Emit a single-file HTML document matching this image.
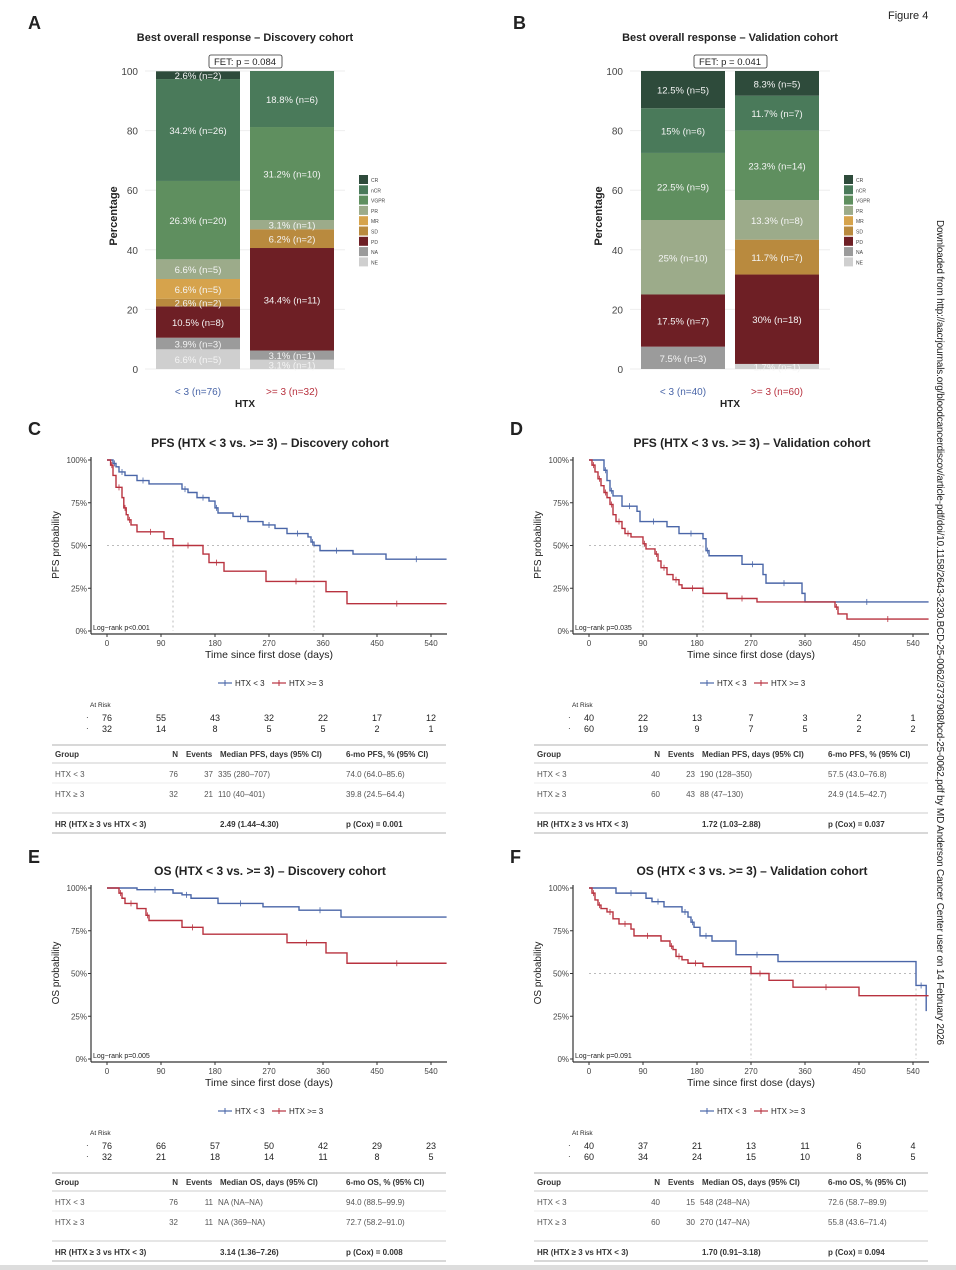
<!DOCTYPE html>
<html><head><meta charset="utf-8"><style>
body{margin:0;background:#fff;width:956px;height:1270px;overflow:hidden;font-family:"Liberation Sans",sans-serif}
svg{position:absolute;left:0;top:0}
</style></head><body>
<svg id="s" width="956" height="1270" xmlns="http://www.w3.org/2000/svg" font-family="Liberation Sans, sans-serif"></svg>
<script>
const S=document.getElementById('s');let h='';
function T(x,y,t,o={}){h+=`<text x="${x}" y="${y}" font-size="${o.s||8}" fill="${o.c||'#222'}" text-anchor="${o.a||'start'}" font-weight="${o.b?'bold':'normal'}" ${o.r?`transform="rotate(${o.r} ${x} ${y})"`:''}>${t}</text>`;}
function L(x1,y1,x2,y2,c,w,d){h+=`<line x1="${x1}" y1="${y1}" x2="${x2}" y2="${y2}" stroke="${c}" stroke-width="${w||1}" ${d?`stroke-dasharray="${d}"`:''}/>`;}
function R(x,y,w,hh,c){h+=`<rect x="${x}" y="${y}" width="${w}" height="${hh}" fill="${c}"/>`;}
const col={CR:'#2e4b3b',nCR:'#4a7a5a',VGPR:'#5f8f5f',PR:'#9cab8a',MR:'#d6a34c',SD:'#b98a3e',PD:'#6e1f25',NA:'#9b9b9b',NE:'#cfcfcf'};
const order=['CR','nCR','VGPR','PR','MR','SD','PD','NA','NE'];
T(888,19,'Figure 4',{s:11});
h+=`<text x="937" y="220" font-size="10" fill="#222" transform="rotate(90 937 220)" textLength="825">Downloaded from http://aacrjournals.org/bloodcancerdiscov/article-pdf/doi/10.1158/2643-3230.BCD-25-0062/3737908/bcd-25-0062.pdf by MD Anderson Cancer Center user on 14 February 2026</text>`;
function bars(ox,letter,title,fet,b1,b2,l1,l2){
 T(ox+28,29,letter,{s:18,b:1});
 T(ox+245,41,title,{s:11,b:1,a:'middle'});
 const y0=369,y1=71,k=(y0-y1)/100;
 for(let v=0;v<=100;v+=20){T(ox+138,y0-v*k+4,v,{s:10,c:'#444',a:'end'});L(ox+145,y0-v*k,ox+345,y0-v*k,'#eee');}
 T(ox+117,216,'Percentage',{s:11,b:1,a:'middle',r:-90});
 [[b1,ox+156],[b2,ox+250]].forEach(([b,x])=>{let y=y0;b.forEach(([c,p,lab])=>{const hh=p*k;R(x,y-hh,84,hh,col[c]);if(lab)T(x+42,y-hh/2+4,lab,{s:9.5,c:'#f4f4f4',a:'middle'});y-=hh;});});
 h+=`<rect x="${ox+209}" y="55" width="73" height="13" fill="#fff" stroke="#333" stroke-width="0.8" rx="2"/>`;
 T(ox+245,65,fet,{s:9.5,a:'middle'});
 order.forEach((c,i)=>{R(ox+359,175+i*10.3,9,9,col[c]);T(ox+371,182+i*10.3,c,{s:5,c:'#444'});});
 T(ox+198,395,l1,{s:10,c:'#4a66a8',a:'middle'});T(ox+292,395,l2,{s:10,c:'#b8323f',a:'middle'});
 T(ox+245,407,'HTX',{s:10,b:1,a:'middle'});
}
bars(0,'A','Best overall response – Discovery cohort','FET: p = 0.084',
[['NE',6.6,'6.6% (n=5)'],['NA',3.9,'3.9% (n=3)'],['PD',10.5,'10.5% (n=8)'],['SD',2.6,'2.6% (n=2)'],['MR',6.6,'6.6% (n=5)'],['PR',6.6,'6.6% (n=5)'],['VGPR',26.3,'26.3% (n=20)'],['nCR',34.2,'34.2% (n=26)'],['CR',2.6,'2.6% (n=2)']],
[['NE',3.1,'3.1% (n=1)'],['NA',3.1,'3.1% (n=1)'],['PD',34.4,'34.4% (n=11)'],['SD',6.3,'6.2% (n=2)'],['PR',3.1,'3.1% (n=1)'],['VGPR',31.2,'31.2% (n=10)'],['nCR',18.8,'18.8% (n=6)']],'&lt; 3 (n=76)','&gt;= 3 (n=32)');
bars(485,'B','Best overall response – Validation cohort','FET: p = 0.041',
[['NA',7.5,'7.5% (n=3)'],['PD',17.5,'17.5% (n=7)'],['PR',25,'25% (n=10)'],['VGPR',22.5,'22.5% (n=9)'],['nCR',15,'15% (n=6)'],['CR',12.5,'12.5% (n=5)']],
[['NE',1.7,'1.7% (n=1)'],['PD',30,'30% (n=18)'],['SD',11.7,'11.7% (n=7)'],['PR',13.3,'13.3% (n=8)'],['VGPR',23.3,'23.3% (n=14)'],['nCR',11.7,'11.7% (n=7)'],['CR',8.3,'8.3% (n=5)']],'&lt; 3 (n=40)','&gt;= 3 (n=60)');
function km(ox,oy,letter,title,ylab,lr,blue,red,med,risk,tab){
 T(ox+28,oy+435,letter,{s:18,b:1});
 T(ox+270,oy+447,title,{s:12,b:1,a:'middle'});
 const X=d=>ox+107+d*0.6,Y=p=>oy+631-p*1.71;
 L(ox+91,oy+457,ox+91,oy+634,'#333',1.2);L(ox+91,oy+634,ox+447,oy+634,'#333',1.2);
 [0,25,50,75,100].forEach(v=>{T(ox+87,Y(v)+3,v+'%',{s:8,c:'#444',a:'end'});L(ox+88,Y(v),ox+91,Y(v),'#333');});
 for(let d=0;d<=540;d+=90){T(X(d),oy+646,d,{s:8,c:'#444',a:'middle'});L(X(d),oy+634,X(d),oy+637,'#333');}
 T(ox+269,oy+658,'Time since first dose (days)',{s:10.5,a:'middle'});
 T(ox+59,oy+545,ylab,{s:10,a:'middle',r:-90});
 if(med.length){L(X(0),Y(50),X(Math.max(...med)),Y(50),'#bbb',1,'2,3');med.forEach(m=>L(X(m),Y(50),X(m),Y(0),'#bbb',1,'2,3'));}
 [[blue,'#4a66a8'],[red,'#b8323f']].forEach(([p,c])=>{let d=`M${X(p[0][0])},${Y(p[0][1])}`;for(let i=1;i<p.length;i++){d+=`H${X(p[i][0])}V${Y(p[i][1])}`;}h+=`<path d="${d}" fill="none" stroke="${c}" stroke-width="1.4"/>`;
  for(let i=1;i<p.length-1;i+=2){const xx=(X(p[i][0])+X(p[i+1][0]))/2;L(xx,Y(p[i][1])-3,xx,Y(p[i][1])+3,c,0.8);} });
 T(ox+93,oy+630,lr,{s:7});
 // legend
 L(ox+218,oy+683,ox+232,oy+683,'#4a66a8',1.2);L(ox+225,oy+680,ox+225,oy+686,'#4a66a8');T(ox+235,oy+686,'HTX &lt; 3',{s:8});
 L(ox+272,oy+683,ox+286,oy+683,'#b8323f',1.2);L(ox+279,oy+680,ox+279,oy+686,'#b8323f');T(ox+289,oy+686,'HTX &gt;= 3',{s:8});
 T(ox+90,oy+707,'At Risk',{s:6.5});
 T(ox+86,oy+720,'·',{s:8});T(ox+86,oy+731,'·',{s:8});
 risk[0].forEach((v,i)=>T(X(i*90),oy+721,v,{s:9,a:'middle'}));
 risk[1].forEach((v,i)=>T(X(i*90),oy+732,v,{s:9,a:'middle'}));
 L(ox+52,oy+745,ox+446,oy+745,'#ccc',1.5);L(ox+52,oy+763,ox+446,oy+763,'#ddd',1.5);L(ox+52,oy+783,ox+446,oy+783,'#eee',1);L(ox+52,oy+813,ox+446,oy+813,'#ddd',1.5);L(ox+52,oy+833,ox+446,oy+833,'#ccc',1.5);
 const e=tab.m;T(ox+55,oy+757,'Group',{s:8,b:1,c:'#333'});T(ox+178,oy+757,'N',{s:8,b:1,a:'end',c:'#333'});T(ox+186,oy+757,'Events',{s:8,b:1,c:'#333'});T(ox+220,oy+757,`Median ${e}, days (95% CI)`,{s:8,b:1,c:'#333'});T(ox+346,oy+757,`6-mo ${e}, % (95% CI)`,{s:8,b:1,c:'#333'});
 tab.r.forEach((r,i)=>{const y=oy+777+i*20;T(ox+55,y,r[0],{s:8,c:'#555'});T(ox+178,y,r[1],{s:8,a:'end',c:'#555'});T(ox+213,y,r[2],{s:8,a:'end',c:'#555'});T(ox+218,y,r[3],{s:8,c:'#555'});T(ox+346,y,r[4],{s:8,c:'#555'});});
 T(ox+55,oy+827,'HR (HTX ≥ 3 vs HTX &lt; 3)',{s:8,b:1,c:'#333'});T(ox+220,oy+827,tab.hr,{s:8,b:1,c:'#333'});T(ox+346,oy+827,tab.p,{s:8,b:1,c:'#333'});
}
km(0,0,'C','PFS (HTX &lt; 3 vs. &gt;= 3) – Discovery cohort','PFS probability','Log−rank p&lt;0.001',
[[0,100],[10,98],[15,96],[20,93],[30,91],[50,88],[70,86],[125,83],[135,81],[150,78],[170,76],[180,72],[185,69],[210,67],[235,64],[260,62],[280,60],[300,57],[335,55],[340,52],[345,50],[355,47],[410,45],[465,42],[566,42]],
[[0,100],[6,97],[10,91],[15,84],[25,78],[28,72],[32,68],[35,65],[40,62],[50,58],[95,54],[110,50],[160,45],[170,40],[195,35],[265,29],[365,23],[400,16],[566,16]],
[110,345],[[76,55,43,32,22,17,12],[32,14,8,5,5,2,1]],
{m:'PFS',r:[['HTX &lt; 3',76,37,'335 (280–707)','74.0 (64.0–85.6)'],['HTX ≥ 3',32,21,'110 (40–401)','39.8 (24.5–64.4)']],hr:'2.49 (1.44–4.30)',p:'p (Cox) = 0.001'});
km(482,0,'D','PFS (HTX &lt; 3 vs. &gt;= 3) – Validation cohort','PFS probability','Log−rank p=0.035',
[[0,100],[25,94],[30,88],[35,82],[40,79],[55,73],[80,70],[85,64],[130,61],[150,57],[190,54],[195,47],[200,44],[255,39],[290,33],[295,28],[355,22],[360,17],[566,17]],
[[0,100],[5,97],[10,93],[15,89],[20,85],[25,81],[30,78],[35,74],[40,68],[45,64],[55,60],[60,57],[70,55],[90,51],[95,48],[110,45],[115,41],[120,37],[130,33],[140,30],[150,27],[155,25],[190,22],[230,19],[280,17],[410,14],[415,10],[430,7],[566,7]],
[90,190],[[40,22,13,7,3,2,1],[60,19,9,7,5,2,2]],
{m:'PFS',r:[['HTX &lt; 3',40,23,'190 (128–350)','57.5 (43.0–76.8)'],['HTX ≥ 3',60,43,'88 (47–130)','24.9 (14.5–42.7)']],hr:'1.72 (1.03–2.88)',p:'p (Cox) = 0.037'});
km(0,428,'E','OS (HTX &lt; 3 vs. &gt;= 3) – Discovery cohort','OS probability','Log−rank p=0.005',
[[0,100],[50,99],[110,97],[125,96],[140,94],[185,91],[260,89],[320,87],[390,83],[566,83]],
[[0,100],[20,97],[25,94],[30,91],[50,88],[65,84],[70,81],[125,77],[160,73],[300,68],[365,62],[400,56],[566,56]],
[],[[76,66,57,50,42,29,23],[32,21,18,14,11,8,5]],
{m:'OS',r:[['HTX &lt; 3',76,11,'NA (NA–NA)','94.0 (88.5–99.9)'],['HTX ≥ 3',32,11,'NA (369–NA)','72.7 (58.2–91.0)']],hr:'3.14 (1.36–7.26)',p:'p (Cox) = 0.008'});
km(482,428,'F','OS (HTX &lt; 3 vs. &gt;= 3) – Validation cohort','OS probability','Log−rank p=0.091',
[[0,100],[45,97],[95,94],[105,92],[125,89],[155,86],[165,83],[170,80],[175,77],[185,72],[205,69],[245,61],[315,57],[545,43],[562,28]],
[[0,100],[5,97],[10,93],[15,90],[20,88],[30,86],[40,82],[50,79],[70,76],[75,72],[120,69],[135,66],[140,64],[145,60],[155,58],[165,56],[190,54],[270,50],[300,46],[340,42],[450,37],[566,37]],
[270,545],[[40,37,21,13,11,6,4],[60,34,24,15,10,8,5]],
{m:'OS',r:[['HTX &lt; 3',40,15,'548 (248–NA)','72.6 (58.7–89.9)'],['HTX ≥ 3',60,30,'270 (147–NA)','55.8 (43.6–71.4)']],hr:'1.70 (0.91–3.18)',p:'p (Cox) = 0.094'});
R(0,1265,956,5,'#ddd');
S.innerHTML=h;
</script>
</body></html>
